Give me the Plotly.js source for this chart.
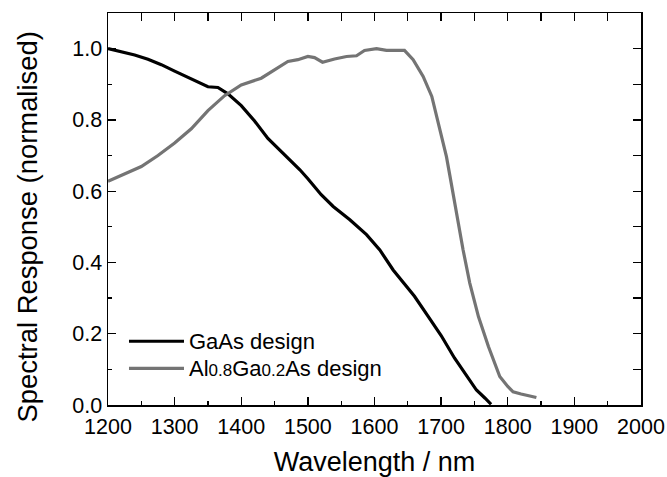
<!DOCTYPE html>
<html>
<head>
<meta charset="utf-8">
<script src="https://cdn.plot.ly/plotly-3.0.1.min.js"></script>
<style>html,body{margin:0;padding:0;background:#fff;}#chart{width:667px;height:477px;}</style>
</head>
<body>
<div id="chart"></div>
<script>
const gaasWavelength = [1200,1220,1240,1260,1280,1300,1320,1340,1350,1365,1380,1400,1420,1440,1460,1475,1488,1500,1511,1520,1538,1563,1588,1608,1628,1640,1650,1660,1680,1700,1720,1740,1753,1766,1775];
const gaasResponse   = [1.000,0.992,0.982,0.970,0.955,0.937,0.919,0.900,0.893,0.891,0.873,0.840,0.797,0.748,0.712,0.684,0.660,0.635,0.609,0.590,0.557,0.520,0.478,0.435,0.379,0.350,0.327,0.305,0.250,0.195,0.132,0.075,0.042,0.019,0.002];

const alGaAsWavelength = [1200,1225,1250,1275,1300,1325,1350,1375,1400,1430,1450,1470,1485,1500,1510,1522,1540,1558,1573,1585,1603,1618,1630,1645,1658,1673,1686,1693,1701,1708,1713,1723,1733,1743,1756,1771,1788,1800,1808,1820,1838,1843];
const alGaAsResponse   = [0.628,0.648,0.669,0.700,0.735,0.775,0.826,0.868,0.898,0.917,0.940,0.964,0.969,0.978,0.975,0.962,0.971,0.978,0.980,0.995,1.000,0.995,0.995,0.995,0.969,0.922,0.866,0.810,0.754,0.697,0.645,0.535,0.435,0.342,0.248,0.164,0.080,0.052,0.037,0.031,0.023,0.021];

const seriesNames = [
  "<span style='font-size:22px'>GaAs design</span>",
  "<span style='font-size:22px'>Al</span><span style='font-size:17px'>0.8</span><span style='font-size:22px'>Ga</span><span style='font-size:17px'>0.2</span><span style='font-size:22px'>As design</span>"
];
const xTickValues = [1200,1300,1400,1500,1600,1700,1800,1900,2000];
const yTickValues = [0.0,0.2,0.4,0.6,0.8,1.0];
const yTickLabels = ["0.0","0.2","0.4","0.6","0.8","1.0"];
const xTitle = "Wavelength / nm";
const yTitle = "Spectral Response (normalised)";

const font = "Liberation Sans, Arial, sans-serif";

const traces = [
  {x: gaasWavelength, y: gaasResponse, name: seriesNames[0], type: "scatter", mode: "lines",
   line: {color: "#000000", width: 3.2}},
  {x: alGaAsWavelength, y: alGaAsResponse, name: seriesNames[1], type: "scatter", mode: "lines",
   line: {color: "#747474", width: 3.2}},
  {x: [], y: [], xaxis: "x2", yaxis: "y2", showlegend: false, hoverinfo: "skip", type: "scatter", mode: "lines"}
];

const layout = {
  width: 667, height: 477,
  margin: {l: 108, r: 26, t: 13, b: 72},
  paper_bgcolor: "#ffffff", plot_bgcolor: "#ffffff",
  font: {family: font, color: "#000000"},
  showlegend: true,
  legend: {x: 0.03, xanchor: "left", y: 0.210, yanchor: "top", bgcolor: "rgba(0,0,0,0)",
           itemwidth: 55,
           font: {family: font, size: 18.6, color: "#000"}, tracegroupgap: 0},
  xaxis: {
    range: [1200, 2000], tickvals: xTickValues, ticktext: xTickValues.map(String),
    ticks: "inside", ticklen: 8, tickwidth: 1.3, tickcolor: "#000",
    minor: {dtick: 50, ticks: "inside", ticklen: 4, tickwidth: 1.3, tickcolor: "#000", showgrid: false},
    showline: true, linecolor: "#000", linewidth: 1.5, mirror: true,
    showgrid: false, zeroline: false, ticklabelstandoff: 2,
    tickfont: {family: font, size: 21.5, color: "#000"},
    title: {text: xTitle, font: {family: font, size: 27, color: "#000"}, standoff: 18}
  },
  yaxis: {
    range: [0, 1.1], tickvals: yTickValues, ticktext: yTickLabels,
    ticks: "inside", ticklen: 8, tickwidth: 1.3, tickcolor: "#000",
    minor: {dtick: 0.1, ticks: "inside", ticklen: 4, tickwidth: 1.3, tickcolor: "#000", showgrid: false},
    showline: true, linecolor: "#000", linewidth: 1.5, mirror: true,
    showgrid: false, zeroline: false,
    tickfont: {family: font, size: 21.5, color: "#000"}
  },
  xaxis2: {
    overlaying: "x", side: "top", anchor: "y2", range: [1200, 2000], dtick: 50, tick0: 1200,
    ticks: "inside", ticklen: 8, tickwidth: 1.3, tickcolor: "#000",
    showticklabels: false, showgrid: false, zeroline: false, showline: false
  },
  yaxis2: {
    overlaying: "y", side: "right", anchor: "x2", range: [0, 1.1], dtick: 0.1, tick0: 0,
    ticks: "inside", ticklen: 8, tickwidth: 1.3, tickcolor: "#000",
    showticklabels: false, showgrid: false, zeroline: false, showline: false
  },
  annotations: [
    {text: yTitle, xref: "paper", yref: "paper", x: 0, y: 0.453, xanchor: "center", yanchor: "middle",
     xshift: -81, textangle: -90, showarrow: false,
     font: {family: font, size: 27.4, color: "#000"}}
  ]
};

Plotly.newPlot("chart", traces, layout, {displayModeBar: false, staticPlot: true});
</script>
</body>
</html>
